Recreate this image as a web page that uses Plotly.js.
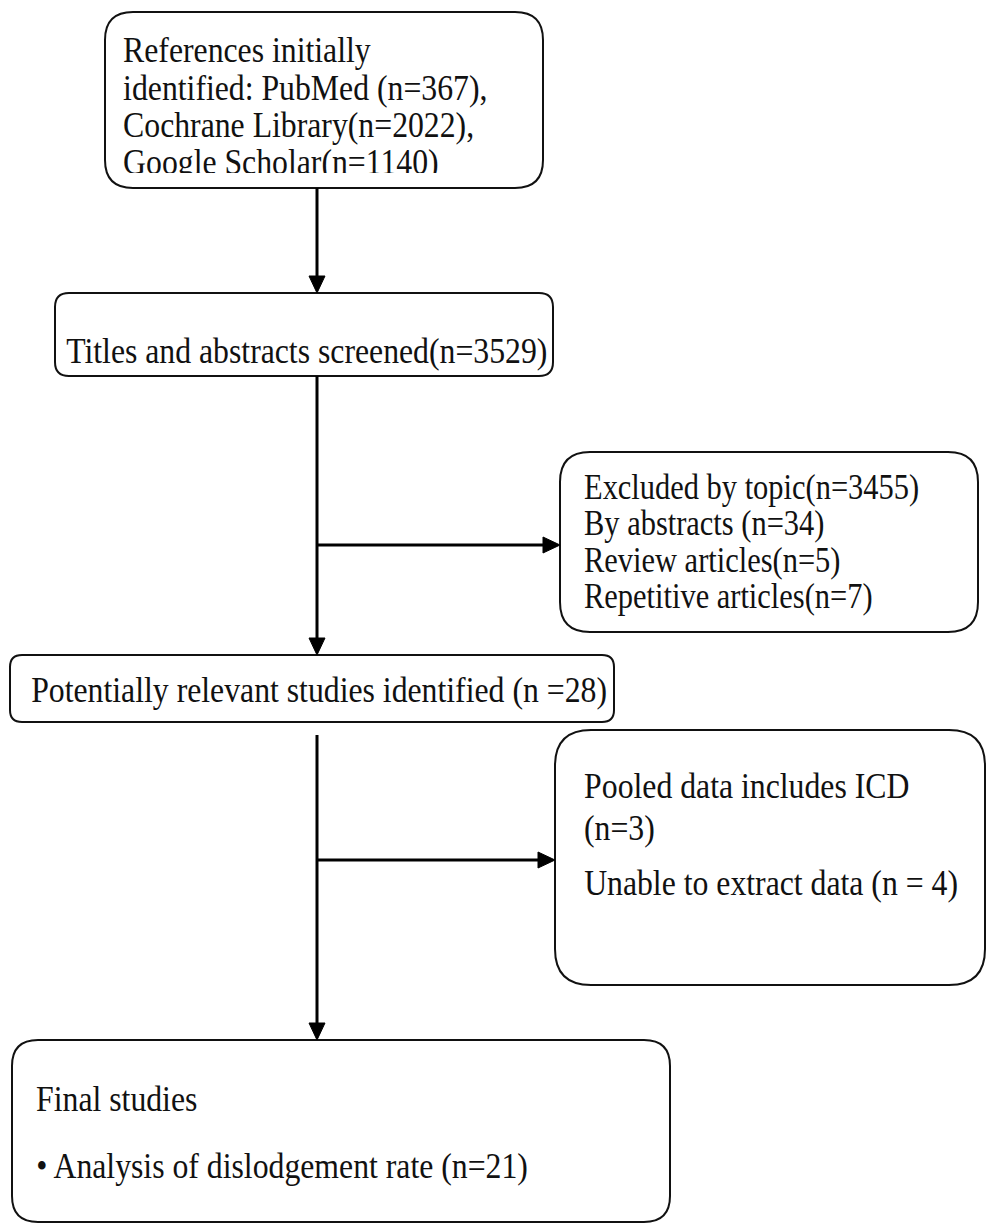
<!DOCTYPE html>
<html>
<head>
<meta charset="utf-8">
<script src="https://cdn.plot.ly/plotly-3.0.1.min.js"></script>
<style>
html,body{margin:0;padding:0;background:#fff;}
#chart{width:990px;height:1225px;}
/* reference text is slightly condensed Times: narrow the glyphs about their left edge */
#chart .annotation-text{transform-box:fill-box;transform-origin:0% 50%;transform:scaleX(0.87);}
</style>
</head>
<body>
<div id="chart"></div>
<script>
// ---- data ----
const identifiedLines = ["References initially", "identified: PubMed (n=367),", "Cochrane Library(n=2022),", "Google Scholar(n=1140)"];
const screenedLines = ["Titles and abstracts screened(n=3529)"];
const excludedLines = ["Excluded by topic(n=3455)", "By abstracts (n=34)", "Review articles(n=5)", "Repetitive articles(n=7)"];
const relevantLines = ["Potentially relevant studies identified (n =28)"];
const fullTextExcludedLines = ["Pooled data includes ICD", "(n=3)", "Unable to extract data (n = 4)"];
const finalLines = ["Final studies", "\u2022 Analysis of dislodgement rate (n=21)"];

// ---- layout geometry (pixels, y downward) ----
const boxes = [
  {lines: identifiedLines, x0: 105, x1: 543, y0: 12, y1: 188, r: 28, tx: 122, ty: [49, 87, 124, 161], size: 36.5},
  {lines: screenedLines, x0: 55, x1: 553, y0: 293, y1: 376, r: 14, tx: 65, ty: [350], size: 36.5},
  {lines: excludedLines, x0: 560, x1: 978, y0: 452, y1: 632, r: 30, tx: 583, ty: [487, 523.5, 560, 596.5], size: 35},
  {lines: relevantLines, x0: 10, x1: 614, y0: 655, y1: 722, r: 12, tx: 30, ty: [689], size: 36.5},
  {lines: fullTextExcludedLines, x0: 555, x1: 985, y0: 730, y1: 985, r: 36, tx: 583, ty: [785, 827, 882], size: 36.5},
  {lines: finalLines, x0: 12, x1: 670, y0: 1040, y1: 1222, r: 26, tx: 35, ty: [1098, 1165], size: 36.5}
];
const arrows = [
  {x0: 317, y0: 188, x1: 317, y1: 293},
  {x0: 317, y0: 376, x1: 317, y1: 655},
  {x0: 317, y0: 545, x1: 560, y1: 545},
  {x0: 317, y0: 735, x1: 317, y1: 1040},
  {x0: 317, y0: 860, x1: 555, y1: 860}
];
// the last line of the first box is cut off at its baseline in the reference
const clipBand = {x0: 121, x1: 527, y0: 173, y1: 183};

const FAMILY = '"Liberation Serif", "Times New Roman", serif';
const shapes = [];
const annotations = [];

function roundRect(b) {
  const {x0, x1, y0, y1, r} = b;
  return `M${x0 + r},${y0} L${x1 - r},${y0} Q${x1},${y0} ${x1},${y0 + r} L${x1},${y1 - r} Q${x1},${y1} ${x1 - r},${y1} L${x0 + r},${y1} Q${x0},${y1} ${x0},${y1 - r} L${x0},${y0 + r} Q${x0},${y0} ${x0 + r},${y0} Z`;
}

boxes.forEach(b => {
  shapes.push({type: 'path', xref: 'x', yref: 'y', path: roundRect(b), line: {color: '#111', width: 2}, fillcolor: 'rgba(0,0,0,0)'});
  b.lines.forEach((t, i) => {
    annotations.push({x: b.tx, y: b.ty[i], xref: 'x', yref: 'y', text: t, showarrow: false,
      xanchor: 'left', yanchor: 'middle', borderpad: 0,
      font: {family: FAMILY, size: b.size, color: '#111'}});
  });
});

annotations.push({x: clipBand.x0, y: clipBand.y0, xref: 'x', yref: 'y', text: ' ', showarrow: false,
  xanchor: 'left', yanchor: 'top', width: clipBand.x1 - clipBand.x0, height: clipBand.y1 - clipBand.y0,
  bgcolor: '#fff', borderpad: 0, borderwidth: 0, font: {size: 4}});

const HEAD = 17, HALF = 8;
arrows.forEach(a => {
  const vertical = a.x0 === a.x1;
  let ex, ey, p;
  if (vertical) {
    ex = a.x1; ey = a.y1 - HEAD;
    p = `M${a.x1},${a.y1} L${a.x1 - HALF},${ey} L${a.x1 + HALF},${ey} Z`;
  } else {
    ex = a.x1 - HEAD; ey = a.y1;
    p = `M${a.x1},${a.y1} L${ex},${a.y1 - HALF} L${ex},${a.y1 + HALF} Z`;
  }
  shapes.push({type: 'line', xref: 'x', yref: 'y', x0: a.x0, y0: a.y0, x1: ex, y1: ey, line: {color: '#000', width: 3}});
  shapes.push({type: 'path', xref: 'x', yref: 'y', path: p, line: {color: '#000', width: 1}, fillcolor: '#000'});
});

const layout = {
  width: 990, height: 1225,
  margin: {l: 0, r: 0, t: 0, b: 0},
  paper_bgcolor: '#fff', plot_bgcolor: '#fff',
  xaxis: {range: [0, 990], visible: false, fixedrange: true},
  yaxis: {range: [1225, 0], visible: false, fixedrange: true},
  shapes: shapes,
  annotations: annotations,
  showlegend: false
};
Plotly.newPlot('chart', [], layout, {staticPlot: true, displayModeBar: false});
</script>
</body>
</html>
